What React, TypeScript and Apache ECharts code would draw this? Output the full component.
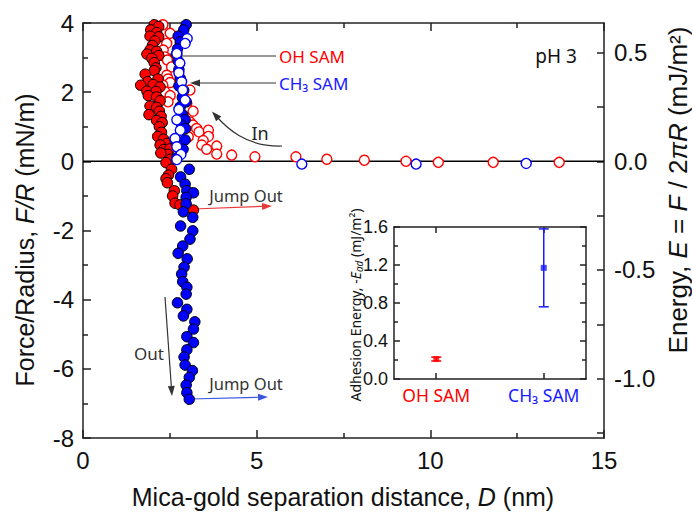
import React, { useEffect, useRef } from "react";
import * as echarts from "echarts";

// ---------- data (D in nm, F/R in mN/m) ----------
const ohSamIn: [number, number][] = [
  [2.30, 3.95], [2.51, 3.70], [2.41, 3.41], [2.31, 3.22], [2.36, 3.02], [2.43, 2.93],
  [2.55, 2.73], [2.41, 2.49], [2.45, 2.38], [2.51, 2.28], [2.30, 2.20], [3.08, 2.06],
  [2.36, 2.01], [2.51, 1.90], [2.45, 1.72], [2.99, 1.68], [3.00, 1.52], [3.17, 1.45],
  [3.08, 1.14], [3.16, 1.05], [3.27, 0.95], [3.34, 0.85], [3.61, 0.90], [3.03, 0.71],
  [3.61, 0.72], [3.46, 0.60], [3.42, 0.47], [3.56, 0.35], [3.85, 0.44], [3.85, 0.21],
  [4.28, 0.18], [4.95, 0.13], [6.13, 0.13], [7.02, 0.06], [8.10, 0.03], [9.30, 0.0],
  [10.23, -0.03], [11.81, -0.03], [13.71, -0.03],
];
const ohSamOut: [number, number][] = [
  [2.05, 3.95], [2.18, 3.90], [1.95, 3.80], [2.12, 3.72], [1.93, 3.62], [2.18, 3.60],
  [2.07, 3.48], [2.00, 3.35], [1.93, 3.22], [2.12, 3.18], [1.84, 3.10], [2.18, 3.06],
  [1.98, 2.98], [2.05, 2.85], [2.10, 2.70], [2.05, 2.62], [1.79, 2.52], [1.86, 2.30],
  [2.16, 2.38], [2.02, 2.22], [1.66, 2.20], [2.22, 2.15], [1.84, 2.03], [2.10, 2.02],
  [1.88, 1.90], [2.12, 1.86], [2.22, 1.75], [1.93, 1.60], [2.12, 1.56], [2.20, 1.45],
  [1.90, 1.35], [2.25, 1.30], [2.12, 1.18], [2.28, 1.12], [2.20, 1.00], [2.26, 0.84],
  [2.15, 0.72], [2.32, 0.64], [2.42, 0.52], [2.22, 0.47], [2.32, 0.34], [2.50, 0.36],
  [2.44, 0.20], [2.24, 0.24], [2.52, 0.06], [2.39, -0.04], [2.55, -0.23], [2.46, -0.40],
  [2.39, -0.50], [2.43, -0.62], [2.63, -0.85], [2.58, -1.00], [2.65, -1.21], [2.79, -1.26],
  [3.18, -1.41],
];
const ch3SamIn: [number, number][] = [
  [3.00, 3.55], [2.94, 3.41], [2.70, 3.12], [2.79, 2.84], [2.76, 2.56], [2.84, 2.30],
  [2.87, 2.06], [2.94, 1.77], [2.76, 1.50], [2.70, 1.20], [2.80, 0.90], [2.65, 0.66],
  [2.70, 0.42], [2.82, 0.20], [2.70, 0.05], [6.30, -0.08], [9.59, -0.08], [12.76, -0.06],
];
const ch3SamOut: [number, number][] = [
  [2.97, 3.95], [2.90, 3.80], [2.74, 3.62], [2.80, 3.45], [2.72, 3.25], [2.70, 3.10],
  [2.74, 2.90], [2.76, 2.65], [2.80, 2.40], [2.76, 2.18], [2.90, 2.05], [2.86, 1.85],
  [2.97, 1.72], [2.80, 1.58], [2.87, 1.35], [2.94, 1.20], [2.84, 1.05], [2.95, 0.95],
  [2.65, 0.62], [2.94, 0.62], [2.88, 0.35], [2.70, 0.10], [3.06, -0.23], [2.81, -0.45],
  [2.94, -0.66], [2.99, -0.85], [3.18, -0.91], [2.97, -1.04], [2.97, -1.23], [2.89, -1.46],
  [3.16, -1.62], [2.81, -1.87], [3.16, -2.01], [3.08, -2.25], [2.87, -2.45], [2.74, -2.66],
  [3.00, -2.82], [2.91, -3.06], [2.84, -3.26], [2.87, -3.48], [2.99, -3.64], [2.97, -3.84],
  [2.72, -4.09], [2.99, -4.28], [2.89, -4.47], [3.22, -4.64], [3.18, -4.85], [2.99, -5.07],
  [3.18, -5.24], [2.99, -5.45], [2.91, -5.66], [2.94, -5.89], [3.15, -6.05], [3.06, -6.25],
  [2.97, -6.47], [2.99, -6.69], [3.06, -6.88],
];
const zeroLine: [number, number][] = [[0, 0], [15, 0]];

// right axis E = F / 2πR (mJ/m²)
const energyLabels = [-1.0, -0.5, 0.0, 0.5];
const energyTicks = [-1.25, -1.0, -0.75, -0.5, -0.25, 0.0, 0.25, 0.5];

// inset: adhesion energy
const insetCategories = ["OH SAM", "CH₃ SAM"];
const insetPositions = [0.22, 0.78];
const insetMean = [0.21, 1.17];
const insetLow = [0.19, 0.76];
const insetHigh = [0.23, 1.58];

const RED = "#ff0000";
const BLUE = "#0000ff";
const insetColors = [RED, "#1a1aff"];

const FONT = "'Liberation Sans', Arial, sans-serif";
const AFONT = "'Noto Sans', 'Open Sans', sans-serif";
const AX = "#222";

function arrow(x1: number, y1: number, x2: number, y2: number, color: string, lw = 1) {
  const dx = x2 - x1, dy = y2 - y1;
  const len = Math.sqrt(dx * dx + dy * dy);
  const ux = dx / len, uy = dy / len;
  const L = 10, W = 3.5;
  const bx = x2 - ux * L, by = y2 - uy * L;
  return {
    type: "group",
    children: [
      { type: "line", shape: { x1, y1, x2: bx, y2: by }, style: { stroke: color, lineWidth: lw } },
      {
        type: "polygon",
        shape: { points: [[x2, y2], [bx - uy * W, by + ux * W], [bx + uy * W, by - ux * W]] },
        style: { fill: color },
      },
    ],
  };
}

function txt(x: number, y: number, text: string, fill: string, size: number, align = "center") {
  return {
    type: "text",
    x, y,
    style: {
      text, fill, fontSize: size, fontFamily: AFONT,
      align, textAlign: align, verticalAlign: "middle", textVerticalAlign: "middle",
    },
  };
}

export default function App() {
  const ref = useRef<HTMLDivElement>(null);
  useEffect(() => {
    if (!ref.current) return;
    const chart = echarts.init(ref.current, undefined, { renderer: "svg" });

    const tickLine = { color: AX, width: 1.5 };
    const mainLabel = { fontSize: 24, fontFamily: FONT, color: "#111" };
    const TS = 25;

    const bez = { x1: 282, y1: 146, cpx1: 245, cpy1: 147, cpx2: 226, cpy2: 127, x2: 216, y2: 116 };
    const inDir = (() => {
      const dx = bez.x2 - bez.cpx2, dy = bez.y2 - bez.cpy2;
      const l = Math.sqrt(dx * dx + dy * dy);
      return [dx / l, dy / l];
    })();
    const inTip = [bez.x2 + inDir[0] * 6, bez.y2 + inDir[1] * 6];

    const errData = insetPositions.map((p, i) => [p, insetLow[i], insetHigh[i], i]);

    chart.setOption({
      animation: false,
      backgroundColor: "#fff",
      grid: [
        { left: 83, top: 23, width: 521, height: 415, outerBoundsMode: "none" },
        { left: 394, top: 227, width: 192, height: 152, outerBoundsMode: "none" },
      ],
      xAxis: [
        {
          gridIndex: 0, type: "value", min: 0, max: 15, interval: 5, position: "bottom",
          axisLine: { show: true, onZero: false, lineStyle: tickLine },
          axisTick: { inside: true, length: 8, lineStyle: tickLine },
          minorTick: { show: true, splitNumber: 2, length: 5, lineStyle: tickLine },
          splitLine: { show: false },
          axisLabel: { ...mainLabel, margin: 10 },
        },
        {
          gridIndex: 0, type: "value", min: 0, max: 15, interval: 5, position: "top",
          axisLine: { show: true, onZero: false, lineStyle: tickLine },
          axisTick: { inside: true, length: 8, lineStyle: tickLine },
          minorTick: { show: true, splitNumber: 2, length: 5, lineStyle: tickLine },
          splitLine: { show: false },
          axisLabel: { show: false },
        },
        {
          gridIndex: 1, type: "value", min: 0, max: 1, position: "bottom",
          axisLine: { show: true, onZero: false, lineStyle: tickLine },
          axisTick: { inside: true, length: 6, lineStyle: tickLine, customValues: insetPositions },
          splitLine: { show: false },
          axisLabel: {
            customValues: insetPositions,
            margin: 7,
            fontSize: 17.5,
            fontFamily: AFONT,
            formatter: (v: number) => insetCategories[v < 0.5 ? 0 : 1],
            color: (v: any) => (Number(v) < 0.5 ? insetColors[0] : insetColors[1]),
          },
        },
        {
          gridIndex: 1, type: "value", min: 0, max: 1, position: "top",
          axisLine: { show: true, onZero: false, lineStyle: tickLine },
          axisTick: { inside: true, length: 6, lineStyle: tickLine, customValues: insetPositions },
          splitLine: { show: false },
          axisLabel: { show: false },
        },
      ],
      yAxis: [
        {
          gridIndex: 0, type: "value", min: -8, max: 4, interval: 2, position: "left",
          axisLine: { show: true, onZero: false, lineStyle: tickLine },
          axisTick: { inside: true, length: 8, lineStyle: tickLine },
          minorTick: { show: true, splitNumber: 2, length: 5, lineStyle: tickLine },
          splitLine: { show: false },
          axisLabel: { ...mainLabel, margin: 9 },
        },
        {
          gridIndex: 0, type: "value", min: -8 / (2 * Math.PI), max: 4 / (2 * Math.PI), position: "right",
          axisLine: { show: true, onZero: false, lineStyle: tickLine },
          axisTick: { inside: true, length: 7, lineStyle: tickLine, customValues: energyTicks },
          splitLine: { show: false },
          axisLabel: {
            ...mainLabel, margin: 10, customValues: energyLabels,
            formatter: (v: number) => v.toFixed(1),
          },
        },
        {
          gridIndex: 1, type: "value", min: 0, max: 1.6, interval: 0.4, position: "left",
          axisLine: { show: true, onZero: false, lineStyle: tickLine },
          axisTick: { inside: true, length: 6, lineStyle: tickLine },
          minorTick: { show: true, splitNumber: 2, length: 4, lineStyle: tickLine },
          splitLine: { show: false },
          axisLabel: { fontSize: 18, fontFamily: FONT, color: "#111", margin: 6, formatter: (v: number) => v.toFixed(1) },
        },
        {
          gridIndex: 1, type: "value", min: 0, max: 1.6, interval: 0.4, position: "right",
          axisLine: { show: true, onZero: false, lineStyle: tickLine },
          axisTick: { inside: true, length: 6, lineStyle: tickLine },
          minorTick: { show: true, splitNumber: 2, length: 4, lineStyle: tickLine },
          splitLine: { show: false },
          axisLabel: { show: false },
        },
      ],
      series: [
        {
          type: "line", xAxisIndex: 0, yAxisIndex: 0, data: zeroLine, symbol: "none", z: 1,
          lineStyle: { color: "#000", width: 1.5 }, silent: true,
        },
        {
          name: "OH in", type: "scatter", xAxisIndex: 0, yAxisIndex: 0, data: ohSamIn, z: 2,
          symbol: "circle", symbolSize: 10,
          itemStyle: { color: "#fff", borderColor: RED, borderWidth: 1.4, opacity: 1 },
        },
        {
          name: "OH out", type: "scatter", xAxisIndex: 0, yAxisIndex: 0, data: ohSamOut, z: 3,
          symbol: "circle", symbolSize: 10.5,
          itemStyle: { color: RED, borderColor: "#000", borderWidth: 1, opacity: 1 },
        },
        {
          name: "CH3 out", type: "scatter", xAxisIndex: 0, yAxisIndex: 0, data: ch3SamOut, z: 4,
          symbol: "circle", symbolSize: 10.5,
          itemStyle: { color: BLUE, borderColor: "#000", borderWidth: 1, opacity: 1 },
        },
        {
          name: "CH3 in", type: "scatter", xAxisIndex: 0, yAxisIndex: 0, data: ch3SamIn, z: 5,
          symbol: "circle", symbolSize: 10,
          itemStyle: { color: "#fff", borderColor: BLUE, borderWidth: 1.4, opacity: 1 },
        },
        {
          type: "custom", xAxisIndex: 2, yAxisIndex: 2, data: errData, z: 6,
          renderItem: (params: any, api: any) => {
            const x = api.value(0);
            const lo = api.coord([x, api.value(1)]);
            const hi = api.coord([x, api.value(2)]);
            const c = insetColors[api.value(3)];
            const hw = 5;
            const st = { stroke: c, lineWidth: 1.5 };
            return {
              type: "group",
              children: [
                { type: "line", shape: { x1: lo[0], y1: lo[1], x2: hi[0], y2: hi[1] }, style: st },
                { type: "line", shape: { x1: lo[0] - hw, y1: lo[1], x2: lo[0] + hw, y2: lo[1] }, style: st },
                { type: "line", shape: { x1: hi[0] - hw, y1: hi[1], x2: hi[0] + hw, y2: hi[1] }, style: st },
              ],
            };
          },
        },
        {
          type: "scatter", xAxisIndex: 2, yAxisIndex: 2, z: 7, symbol: "rect", symbolSize: 6,
          data: insetPositions.map((p, i) => ({ value: [p, insetMean[i]], itemStyle: { color: insetColors[i] } })),
        },
      ],
      graphic: [
        {
          type: "text", x: 25, y: 240, rotation: Math.PI / 2,
          style: {
            text: "{n|Force/Radius, }{i|F/R}{n| (mN/m)}",
            align: "center", textAlign: "center", verticalAlign: "middle", textVerticalAlign: "middle",
            rich: {
              n: { fontSize: TS, fontFamily: FONT, fill: "#111" },
              i: { fontSize: TS, fontFamily: FONT, fill: "#111", fontStyle: "italic" },
            },
          },
        },
        {
          type: "text", x: 343, y: 497,
          style: {
            text: "{n|Mica-gold separation distance, }{i|D}{n| (nm)}",
            align: "center", textAlign: "center", verticalAlign: "middle", textVerticalAlign: "middle",
            rich: {
              n: { fontSize: TS, fontFamily: FONT, fill: "#111" },
              i: { fontSize: TS, fontFamily: FONT, fill: "#111", fontStyle: "italic" },
            },
          },
        },
        {
          type: "text", x: 678, y: 190, rotation: Math.PI / 2,
          style: {
            text: "{n|Energy, }{i|E}{n| = }{i|F}{n| / 2}{i|πR}{n| (mJ/m²)}",
            align: "center", textAlign: "center", verticalAlign: "middle", textVerticalAlign: "middle",
            rich: {
              n: { fontSize: 26, fontFamily: FONT, fill: "#111" },
              i: { fontSize: 26, fontFamily: FONT, fill: "#111", fontStyle: "italic" },
            },
          },
        },
        {
          type: "text", x: 355, y: 305, rotation: Math.PI / 2,
          style: {
            text: "{n|Adhesion Energy, -}{i|E}{s|ad}{n| (mJ/m²)}",
            align: "center", textAlign: "center", verticalAlign: "middle", textVerticalAlign: "middle",
            rich: {
              n: { fontSize: 14, fontFamily: AFONT, fill: "#111" },
              i: { fontSize: 14, fontFamily: AFONT, fill: "#111", fontStyle: "italic" },
              s: { fontSize: 10, fontFamily: AFONT, fill: "#111", fontStyle: "italic", padding: [8, 0, 0, 0] },
            },
          },
        },
        txt(279, 56, "OH SAM", RED, 17, "left"),
        txt(279, 83, "CH₃ SAM", "#1a1aff", 17, "left"),
        txt(556, 56, "pH 3", "#111", 19, "center"),
        txt(260, 133, "In", "#222", 18, "center"),
        txt(246, 195, "Jump Out", "#333", 16.5, "center"),
        txt(246, 383, "Jump Out", "#333", 16.5, "center"),
        txt(149, 353, "Out", "#333", 17, "center"),
        arrow(276, 56, 163, 56, "#333", 1),
        arrow(276, 83, 190, 83, "#333", 1),
        arrow(193, 209, 272, 206, "#e83a3a", 1.2),
        arrow(190, 399, 268, 397, "#3a55e0", 1.2),
        arrow(165, 297, 172, 396, "#333", 1.2),
        {
          type: "bezierCurve",
          shape: bez,
          style: { stroke: "#333", lineWidth: 1.2, fill: null },
        },
        {
          type: "polygon",
          shape: {
            points: [
              [inTip[0], inTip[1]],
              [bez.x2 - inDir[0] * 4 - inDir[1] * 3.5, bez.y2 - inDir[1] * 4 + inDir[0] * 3.5],
              [bez.x2 - inDir[0] * 4 + inDir[1] * 3.5, bez.y2 - inDir[1] * 4 - inDir[0] * 3.5],
            ],
          },
          style: { fill: "#333" },
        },
      ],
    });
    return () => chart.dispose();
  }, []);
  return <div ref={ref} style={{ position: "fixed", left: 0, top: 0, width: 692, height: 516 }} />;
}
